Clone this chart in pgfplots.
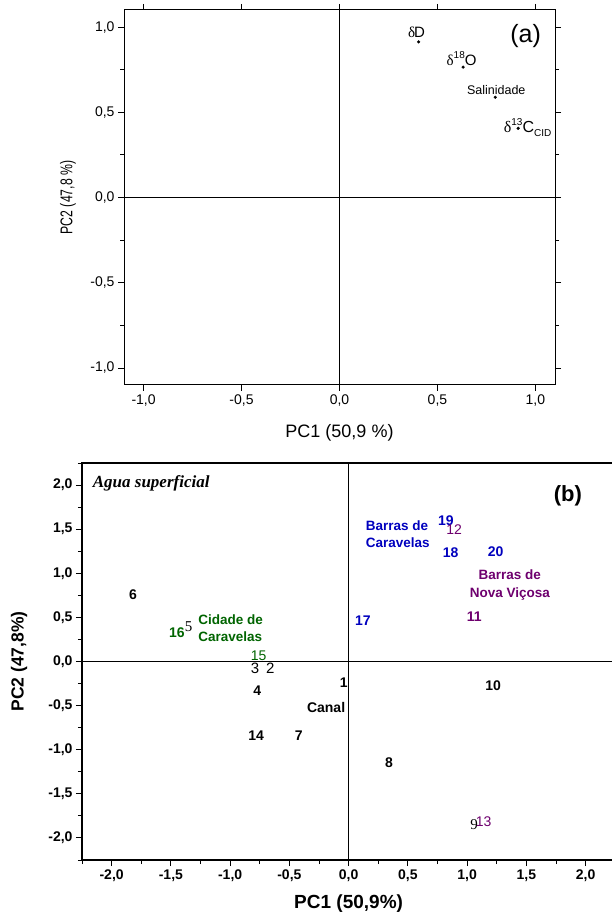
\documentclass[border=0pt]{standalone}
\usepackage{fontspec}
\setmainfont{Liberation Sans}
\newfontfamily\serif{Liberation Serif}
\usepackage{graphicx}
\usepackage{pgfplots}
\pgfplotsset{compat=1.18}
\definecolor{cblue}{RGB}{0,0,190}
\definecolor{cpurp}{RGB}{110,0,110}
\definecolor{cgreen}{RGB}{0,100,0}
\newcommand{\fs}[1]{\fontsize{#1}{#1}\selectfont}
\newcommand{\sups}[1]{\raisebox{0.42em}{\fs{10}#1}}
\pgfplotsset{lab/.style={only marks, mark=none, nodes near coords, point meta=explicit symbolic,
  every node near coord/.append style={anchor=center, inner sep=0pt, text=#1}}}
\begin{document}
\begin{tikzpicture}
\useasboundingbox (0pt,0pt) rectangle (612pt,918pt);
\clip (0pt,0pt) rectangle (612pt,918pt);
% ---------------- panel (a)
\begin{axis}[
 at={(124pt,533pt)}, anchor=south west, scale only axis, width=431pt, height=375pt,
 xmin=-1.1, xmax=1.1, ymin=-1.1, ymax=1.1,
 xtick={-1,-0.5,0,0.5,1}, ytick={-1,-0.5,0,0.5,1},
 minor ytick={-0.75,-0.25,0.25,0.75},
 tick align=outside, major tick length=6pt, minor tick length=4pt,
 every tick/.style={black, line width=0.8pt},
 axis line style={line width=1pt},
 tick label style={font=\fs{14}},
 /pgf/number format/.cd, use comma, fixed, fixed zerofill, precision=1, assume math mode=true, /pgfplots/.cd,
 xlabel={PC1 (50,9 \%)}, ylabel={\scalebox{0.72}[1]{PC2 (47,8 \%)}},
 xlabel style={at={(axis description cs:0.5,-0.128)}, anchor=center, font=\fs{18}},
 ylabel style={at={(axis description cs:-0.13,0.5)}, anchor=center, font=\fs{17}},
 clip=false,
]
\addplot[black, line width=1pt] coordinates {(-1.1,0) (1.1,0)};
\addplot[black, line width=1pt] coordinates {(0,-1.1) (0,1.1)};
\addplot[only marks, mark=*, mark size=1.4pt, black] coordinates {(0.404,0.913) (0.631,0.765) (0.795,0.588) (0.912,0.406)};
\node[font=\fs{15}, inner sep=0pt] at (axis cs:0.393,0.968) {{\serif δ}\kern-1pt D};
\node[font=\fs{15}, inner sep=0pt] at (axis cs:0.623,0.815) {{\serif δ}\sups{18}O};
\node[font=\fs{12.5}, inner sep=0pt] at (axis cs:0.80,0.633) {Salinidade};
\node[font=\fs{16}, inner sep=0pt] at (axis cs:0.96,0.41) {{\serif δ}\sups{13}C\raisebox{-4pt}{\fs{10}CID}};
\node[font=\fs{25}, inner sep=0pt] at (axis cs:0.95,0.95) {(a)};
\end{axis}
% ---------------- panel (b)
\begin{axis}[
 at={(82pt,58pt)}, anchor=south west, scale only axis, width=533.25pt, height=397pt,
 xmin=-2.25, xmax=2.25, ymin=-2.25, ymax=2.25,
 xtick={-2,-1.5,-1,-0.5,0,0.5,1,1.5,2}, ytick={-2,-1.5,-1,-0.5,0,0.5,1,1.5,2},
 minor xtick={-2.25,-1.75,-1.25,-0.75,-0.25,0.25,0.75,1.25,1.75,2.25},
 minor ytick={-2.25,-1.75,-1.25,-0.75,-0.25,0.25,0.75,1.25,1.75,2.25},
 tick pos=left, tick align=outside, major tick length=6pt, minor tick length=4pt,
 every tick/.style={black, line width=0.9pt},
 axis line style={line width=1.2pt},
 tick label style={font=\bfseries\fs{14}},
 /pgf/number format/.cd, use comma, fixed, fixed zerofill, precision=1, assume math mode=true, /pgfplots/.cd,
 xlabel={PC1 (50,9\%)}, ylabel={PC2 (47,8\%)},
 xlabel style={at={(axis description cs:0.5,-0.111)}, anchor=center, font=\bfseries\fs{19}},
 ylabel style={at={(axis description cs:-0.118,0.5)}, anchor=center, font=\bfseries\fs{17.5}},
 clip=false,
]
\addplot[black, line width=1pt] coordinates {(-2.25,0) (2.25,0)};
\addplot[black, line width=1pt] coordinates {(0,-2.25) (0,2.25)};
% black bold
\addplot[lab=black, every node near coord/.append style={font=\bfseries\fs{14}}] coordinates {
 (-1.82,0.76)[6] (-0.04,-0.24)[1] (-0.77,-0.33)[4] (-0.78,-0.84)[14] (-0.42,-0.84)[7] (0.34,-1.15)[8] (1.22,-0.27)[10]};
% black regular sans
\addplot[lab=black, every node near coord/.append style={font=\fs{15}}] coordinates {
 (-0.79,-0.08)[3] (-0.66,-0.08)[2]};
% black serif
\addplot[lab=black, every node near coord/.append style={font=\serif\fs{15}}] coordinates {
 (-1.35,0.40)[5] (1.06,-1.85)[9]};
% green
\addplot[lab=cgreen, every node near coord/.append style={font=\bfseries\fs{14}}] coordinates {(-1.45,0.33)[16]};
\addplot[lab=cgreen, every node near coord/.append style={font=\fs{14}}] coordinates {(-0.76,0.07)[15]};
% blue
\addplot[lab=cblue, every node near coord/.append style={font=\bfseries\fs{14}}] coordinates {
 (0.12,0.46)[17] (0.86,1.23)[18] (0.82,1.60)[19] (1.24,1.24)[20]};
% purple
\addplot[lab=cpurp, every node near coord/.append style={font=\fs{14}}] coordinates {
 (0.89,1.50)[12] (1.14,-1.82)[13]};
\addplot[lab=cpurp, every node near coord/.append style={font=\bfseries\fs{14}}] coordinates {(1.06,0.51)[11]};
% annotations
\node[font=\bfseries\fontsize{13.5}{17}\selectfont, text=cgreen, align=left, anchor=west, inner sep=0pt] at (axis cs:-1.27,0.38) {Cidade de\\Caravelas};
\node[font=\bfseries\fontsize{13.5}{17}\selectfont, text=cblue, align=left, anchor=west, inner sep=0pt] at (axis cs:0.143,1.44) {Barras de\\Caravelas};
\node[font=\bfseries\fontsize{13.5}{18}\selectfont, text=cpurp, align=center, inner sep=0pt] at (axis cs:1.36,0.87) {Barras de\\Nova Viçosa};
\node[font=\bfseries\fs{14}, inner sep=0pt] at (axis cs:-0.19,-0.52) {Canal};
\node[font=\serif\bfseries\itshape\fs{17}, anchor=west, inner sep=0pt] at (axis cs:-2.16,2.02) {Agua superficial};
\node[font=\bfseries\fs{22}, inner sep=0pt] at (axis cs:1.85,1.88) {(b)};
\end{axis}
\end{tikzpicture}
\end{document}
